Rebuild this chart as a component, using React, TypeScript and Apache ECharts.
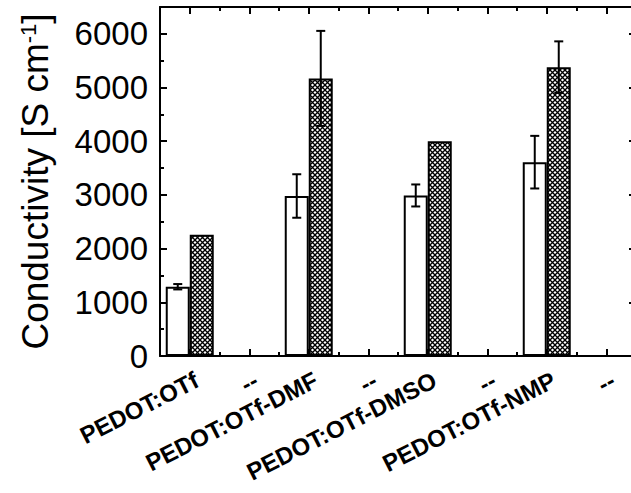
import React, { useEffect, useRef } from "react";
import * as echarts from "echarts";

const categories = [
  "PEDOT:OTf",
  "--",
  "PEDOT:OTf-DMF",
  "--",
  "PEDOT:OTf-DMSO",
  "--",
  "PEDOT:OTf-NMP",
  "--",
];
const pristineValues = [1290, null, 2980, null, 2990, null, 3610, null];
const pristineErrors = [50, null, 405, null, 205, null, 490, null];
const treatedValues = [2260, null, 5170, null, 4000, null, 5380, null];
const treatedErrors = [0, null, 885, null, 0, null, 480, null];

const Y_MIN = 0;
const Y_MAX = 6500;
const Y_MAJOR = 1000;
const Y_MINOR = 500;

const FONT = "Liberation Sans";
const BAR_W = 24;

function makeHatch(): HTMLCanvasElement {
  const c = document.createElement("canvas");
  const s = 5;
  c.width = s;
  c.height = s;
  const ctx = c.getContext("2d")!;
  ctx.fillStyle = "#ffffff";
  ctx.fillRect(0, 0, s, s);
  ctx.strokeStyle = "#000000";
  ctx.lineWidth = 1.35;
  ctx.beginPath();
  ctx.moveTo(-1, -1);
  ctx.lineTo(s + 1, s + 1);
  ctx.moveTo(s + 1, -1);
  ctx.lineTo(-1, s + 1);
  ctx.stroke();
  return c;
}

function errorSeries(values: (number | null)[], errors: (number | null)[], offset: number) {
  const data = values
    .map((v, i) => (v == null ? null : [i, v, errors[i] ?? 0]))
    .filter((d) => d !== null);
  return {
    type: "custom",
    xAxisIndex: 0,
    yAxisIndex: 0,
    z: 5,
    data,
    renderItem: (params: any, api: any) => {
      const x = api.value(0);
      const v = api.value(1);
      const e = api.value(2);
      if (!e) return { type: "group", children: [] };
      const hi = api.coord([x, v + e]);
      const lo = api.coord([x, v - e]);
      const cx = hi[0] + offset;
      const cap = 4.5;
      const st = { stroke: "#000", lineWidth: 2 };
      return {
        type: "group",
        children: [
          { type: "line", shape: { x1: cx, y1: hi[1], x2: cx, y2: lo[1] }, style: st },
          { type: "line", shape: { x1: cx - cap, y1: hi[1], x2: cx + cap, y2: hi[1] }, style: st },
          { type: "line", shape: { x1: cx - cap, y1: lo[1], x2: cx + cap, y2: lo[1] }, style: st },
        ],
      };
    },
  };
}

export default function App() {
  const ref = useRef<HTMLDivElement>(null);
  useEffect(() => {
    if (!ref.current) return;
    const chart = echarts.init(ref.current, null, { renderer: "svg" });
    const hatch = makeHatch();
    const catData = categories.map((_, i) => String(i));
    const lineStyle = { color: "#000", width: 2 };
    const baseX = (pos: string, center: boolean, len: number, labels: boolean, line: boolean) => ({
      type: "category",
      position: pos,
      data: catData,
      boundaryGap: true,
      axisLine: { show: line, onZero: false, lineStyle },
      axisTick: { show: true, inside: true, alignWithLabel: center, length: len, interval: 0, lineStyle },
      axisLabel: labels
        ? {
            show: true,
            interval: 0,
            rotate: 27,
            margin: 26,
            fontFamily: FONT,
            fontWeight: "bold",
            fontSize: 24,
            color: "#000",
            padding: [0, -8, 0, 0],
            formatter: (_v: string, i: number) => categories[i],
          }
        : { show: false },
      splitLine: { show: false },
    });
    const baseY = (pos: string, interval: number, len: number, labels: boolean, line: boolean) => ({
      type: "value",
      position: pos,
      min: Y_MIN,
      max: Y_MAX,
      interval,
      axisLine: { show: line, onZero: false, lineStyle },
      axisTick: { show: true, inside: true, length: len, lineStyle },
      axisLabel: labels
        ? {
            show: true,
            margin: 12,
            fontFamily: FONT,
            fontSize: 33,
            color: "#000",
            showMaxLabel: false,
            formatter: (v: number) => String(v),
          }
        : { show: false },
      splitLine: { show: false },
    });
    const yMain: any = baseY("left", Y_MAJOR, 7, true, true);
    yMain.name = "Conductivity [S cm{sup|-1}]";
    yMain.nameLocation = "middle";
    yMain.nameRotate = 90;
    yMain.nameGap = 106;
    yMain.nameTextStyle = {
      fontFamily: FONT,
      fontSize: 37,
      color: "#000",
      rich: {
        sup: { fontFamily: FONT, fontSize: 22, color: "#000", verticalAlign: "top", lineHeight: 37 },
      },
    };
    chart.setOption({
      animation: false,
      backgroundColor: "#fff",
      grid: {
        left: 160,
        right: -5,
        top: 7,
        bottom: 137,
        containLabel: false,
        outerBoundsMode: "none",
      },
      xAxis: [
        baseX("bottom", true, 7, true, true),
        baseX("bottom", false, 4, false, false),
        baseX("top", true, 7, false, true),
        baseX("top", false, 4, false, false),
      ],
      yAxis: [
        yMain,
        baseY("left", Y_MINOR, 4, false, false),
        baseY("right", Y_MAJOR, 7, false, true),
        baseY("right", Y_MINOR, 4, false, false),
      ],
      series: [
        {
          type: "bar",
          xAxisIndex: 0,
          yAxisIndex: 0,
          data: pristineValues,
          barWidth: BAR_W,
          barGap: "0%",
          itemStyle: { color: "#fff", borderColor: "#000", borderWidth: 2 },
        },
        {
          type: "bar",
          xAxisIndex: 0,
          yAxisIndex: 0,
          data: treatedValues,
          barWidth: BAR_W,
          barGap: "0%",
          itemStyle: {
            color: { image: hatch, repeat: "repeat" },
            borderColor: "#000",
            borderWidth: 2,
          },
        },
        errorSeries(pristineValues, pristineErrors, -BAR_W / 2),
        errorSeries(treatedValues, treatedErrors, BAR_W / 2),
      ],
    } as any);
    return () => chart.dispose();
  }, []);
  return (
    <div
      ref={ref}
      style={{ position: "fixed", left: 0, top: 0, width: 631, height: 493, background: "#fff" }}
    />
  );
}
